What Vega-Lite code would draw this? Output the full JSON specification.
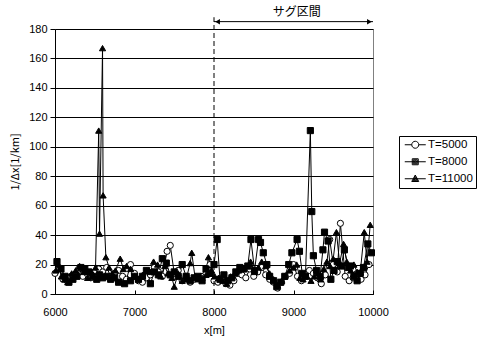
{
 "$schema": "https://vega.github.io/schema/vega-lite/v6.json",
 "width": 318, "height": 265,
 "autosize": {"type": "none"},
 "padding": {"left": 55, "top": 29, "right": 108, "bottom": 44},
 "background": "white",
 "config": {
  "view": {"stroke": "#808080", "strokeWidth": 1},
  "font": "Liberation Sans",
  "axis": {"labelFont": "Liberation Sans", "labelFontSize": 11, "labelColor": "black", "titleFontSize": 11, "titleFontWeight": "normal", "titleColor": "black", "domainColor": "black", "tickColor": "black", "labelOverlap": false}
 },
 "data": {"values": [
  {"s":"T=5000","x":6000,"y":14},{"s":"T=5000","x":6050,"y":18},{"s":"T=5000","x":6100,"y":10},{"s":"T=5000","x":6150,"y":9},{"s":"T=5000","x":6200,"y":12},{"s":"T=5000","x":6250,"y":13},{"s":"T=5000","x":6300,"y":17},{"s":"T=5000","x":6350,"y":12},{"s":"T=5000","x":6400,"y":14},{"s":"T=5000","x":6450,"y":11},{"s":"T=5000","x":6500,"y":15},{"s":"T=5000","x":6550,"y":17},{"s":"T=5000","x":6600,"y":15},{"s":"T=5000","x":6650,"y":18},{"s":"T=5000","x":6700,"y":12},{"s":"T=5000","x":6750,"y":14},{"s":"T=5000","x":6800,"y":16},{"s":"T=5000","x":6850,"y":12},{"s":"T=5000","x":6900,"y":10},{"s":"T=5000","x":6950,"y":20},{"s":"T=5000","x":7000,"y":14},{"s":"T=5000","x":7050,"y":9},{"s":"T=5000","x":7100,"y":8},{"s":"T=5000","x":7150,"y":11},{"s":"T=5000","x":7200,"y":13},{"s":"T=5000","x":7250,"y":18},{"s":"T=5000","x":7300,"y":15},{"s":"T=5000","x":7350,"y":12},{"s":"T=5000","x":7410,"y":29},{"s":"T=5000","x":7450,"y":33},{"s":"T=5000","x":7500,"y":14},{"s":"T=5000","x":7550,"y":16},{"s":"T=5000","x":7600,"y":9},{"s":"T=5000","x":7650,"y":12},{"s":"T=5000","x":7700,"y":8},{"s":"T=5000","x":7750,"y":10},{"s":"T=5000","x":7800,"y":11},{"s":"T=5000","x":7850,"y":12},{"s":"T=5000","x":7900,"y":14},{"s":"T=5000","x":7950,"y":20},{"s":"T=5000","x":8000,"y":9},{"s":"T=5000","x":8050,"y":8},{"s":"T=5000","x":8100,"y":11},{"s":"T=5000","x":8150,"y":7},{"s":"T=5000","x":8200,"y":6},{"s":"T=5000","x":8250,"y":9},{"s":"T=5000","x":8300,"y":14},{"s":"T=5000","x":8350,"y":13},{"s":"T=5000","x":8400,"y":11},{"s":"T=5000","x":8450,"y":17},{"s":"T=5000","x":8500,"y":12},{"s":"T=5000","x":8550,"y":15},{"s":"T=5000","x":8600,"y":18},{"s":"T=5000","x":8650,"y":13},{"s":"T=5000","x":8700,"y":10},{"s":"T=5000","x":8750,"y":8},{"s":"T=5000","x":8800,"y":4},{"s":"T=5000","x":8850,"y":8},{"s":"T=5000","x":8900,"y":12},{"s":"T=5000","x":8950,"y":14},{"s":"T=5000","x":9000,"y":20},{"s":"T=5000","x":9050,"y":12},{"s":"T=5000","x":9100,"y":9},{"s":"T=5000","x":9150,"y":13},{"s":"T=5000","x":9200,"y":16},{"s":"T=5000","x":9250,"y":14},{"s":"T=5000","x":9300,"y":11},{"s":"T=5000","x":9350,"y":7},{"s":"T=5000","x":9400,"y":13},{"s":"T=5000","x":9455,"y":37},{"s":"T=5000","x":9500,"y":20},{"s":"T=5000","x":9550,"y":15},{"s":"T=5000","x":9590,"y":48},{"s":"T=5000","x":9650,"y":12},{"s":"T=5000","x":9700,"y":9},{"s":"T=5000","x":9750,"y":11},{"s":"T=5000","x":9800,"y":14},{"s":"T=5000","x":9850,"y":10},{"s":"T=5000","x":9900,"y":13},{"s":"T=5000","x":9950,"y":20},
  {"s":"T=8000","x":6025,"y":22},{"s":"T=8000","x":6075,"y":17},{"s":"T=8000","x":6125,"y":12},{"s":"T=8000","x":6175,"y":8},{"s":"T=8000","x":6225,"y":10},{"s":"T=8000","x":6275,"y":12},{"s":"T=8000","x":6325,"y":18},{"s":"T=8000","x":6375,"y":17},{"s":"T=8000","x":6425,"y":15},{"s":"T=8000","x":6475,"y":12},{"s":"T=8000","x":6525,"y":10},{"s":"T=8000","x":6560,"y":13},{"s":"T=8000","x":6600,"y":11},{"s":"T=8000","x":6650,"y":12},{"s":"T=8000","x":6700,"y":10},{"s":"T=8000","x":6750,"y":11},{"s":"T=8000","x":6800,"y":8},{"s":"T=8000","x":6875,"y":7},{"s":"T=8000","x":6950,"y":9},{"s":"T=8000","x":7000,"y":12},{"s":"T=8000","x":7050,"y":10},{"s":"T=8000","x":7100,"y":12},{"s":"T=8000","x":7150,"y":16},{"s":"T=8000","x":7200,"y":7},{"s":"T=8000","x":7250,"y":15},{"s":"T=8000","x":7300,"y":13},{"s":"T=8000","x":7350,"y":24},{"s":"T=8000","x":7400,"y":21},{"s":"T=8000","x":7450,"y":13},{"s":"T=8000","x":7500,"y":15},{"s":"T=8000","x":7550,"y":12},{"s":"T=8000","x":7600,"y":20},{"s":"T=8000","x":7650,"y":12},{"s":"T=8000","x":7700,"y":9},{"s":"T=8000","x":7750,"y":11},{"s":"T=8000","x":7800,"y":12},{"s":"T=8000","x":7850,"y":9},{"s":"T=8000","x":7900,"y":17},{"s":"T=8000","x":7950,"y":14},{"s":"T=8000","x":8000,"y":20},{"s":"T=8000","x":8040,"y":37},{"s":"T=8000","x":8075,"y":10},{"s":"T=8000","x":8125,"y":13},{"s":"T=8000","x":8175,"y":9},{"s":"T=8000","x":8225,"y":11},{"s":"T=8000","x":8275,"y":15},{"s":"T=8000","x":8325,"y":18},{"s":"T=8000","x":8375,"y":17},{"s":"T=8000","x":8425,"y":19},{"s":"T=8000","x":8465,"y":37},{"s":"T=8000","x":8510,"y":16},{"s":"T=8000","x":8560,"y":37},{"s":"T=8000","x":8585,"y":35},{"s":"T=8000","x":8620,"y":28},{"s":"T=8000","x":8665,"y":20},{"s":"T=8000","x":8700,"y":12},{"s":"T=8000","x":8750,"y":9},{"s":"T=8000","x":8790,"y":5},{"s":"T=8000","x":8840,"y":8},{"s":"T=8000","x":8890,"y":12},{"s":"T=8000","x":8940,"y":20},{"s":"T=8000","x":8980,"y":28},{"s":"T=8000","x":9045,"y":37},{"s":"T=8000","x":9075,"y":29},{"s":"T=8000","x":9110,"y":14},{"s":"T=8000","x":9150,"y":12},{"s":"T=8000","x":9212,"y":111},{"s":"T=8000","x":9230,"y":56},{"s":"T=8000","x":9250,"y":26},{"s":"T=8000","x":9290,"y":16},{"s":"T=8000","x":9335,"y":12},{"s":"T=8000","x":9370,"y":30},{"s":"T=8000","x":9390,"y":42},{"s":"T=8000","x":9435,"y":36},{"s":"T=8000","x":9470,"y":10},{"s":"T=8000","x":9510,"y":16},{"s":"T=8000","x":9550,"y":22},{"s":"T=8000","x":9600,"y":19},{"s":"T=8000","x":9640,"y":30},{"s":"T=8000","x":9690,"y":18},{"s":"T=8000","x":9715,"y":19},{"s":"T=8000","x":9760,"y":12},{"s":"T=8000","x":9800,"y":9},{"s":"T=8000","x":9840,"y":14},{"s":"T=8000","x":9880,"y":18},{"s":"T=8000","x":9935,"y":34},{"s":"T=8000","x":9980,"y":28},
  {"s":"T=11000","x":6010,"y":16},{"s":"T=11000","x":6040,"y":20},{"s":"T=11000","x":6080,"y":12},{"s":"T=11000","x":6120,"y":10},{"s":"T=11000","x":6160,"y":8},{"s":"T=11000","x":6210,"y":14},{"s":"T=11000","x":6260,"y":16},{"s":"T=11000","x":6310,"y":19},{"s":"T=11000","x":6360,"y":15},{"s":"T=11000","x":6410,"y":11},{"s":"T=11000","x":6460,"y":15},{"s":"T=11000","x":6510,"y":18},{"s":"T=11000","x":6550,"y":111},{"s":"T=11000","x":6560,"y":41},{"s":"T=11000","x":6598,"y":167},{"s":"T=11000","x":6605,"y":67},{"s":"T=11000","x":6640,"y":25},{"s":"T=11000","x":6680,"y":18},{"s":"T=11000","x":6720,"y":14},{"s":"T=11000","x":6760,"y":16},{"s":"T=11000","x":6820,"y":24},{"s":"T=11000","x":6860,"y":17},{"s":"T=11000","x":6900,"y":19},{"s":"T=11000","x":6950,"y":17},{"s":"T=11000","x":7000,"y":12},{"s":"T=11000","x":7050,"y":10},{"s":"T=11000","x":7100,"y":13},{"s":"T=11000","x":7150,"y":16},{"s":"T=11000","x":7200,"y":15},{"s":"T=11000","x":7240,"y":22},{"s":"T=11000","x":7290,"y":20},{"s":"T=11000","x":7330,"y":12},{"s":"T=11000","x":7380,"y":19},{"s":"T=11000","x":7420,"y":14},{"s":"T=11000","x":7470,"y":11},{"s":"T=11000","x":7500,"y":5},{"s":"T=11000","x":7550,"y":14},{"s":"T=11000","x":7600,"y":9},{"s":"T=11000","x":7650,"y":10},{"s":"T=11000","x":7700,"y":21},{"s":"T=11000","x":7720,"y":28},{"s":"T=11000","x":7760,"y":12},{"s":"T=11000","x":7800,"y":10},{"s":"T=11000","x":7850,"y":11},{"s":"T=11000","x":7900,"y":13},{"s":"T=11000","x":7930,"y":25},{"s":"T=11000","x":7970,"y":16},{"s":"T=11000","x":8010,"y":12},{"s":"T=11000","x":8060,"y":11},{"s":"T=11000","x":8110,"y":9},{"s":"T=11000","x":8160,"y":7},{"s":"T=11000","x":8210,"y":12},{"s":"T=11000","x":8260,"y":14},{"s":"T=11000","x":8310,"y":16},{"s":"T=11000","x":8360,"y":17},{"s":"T=11000","x":8410,"y":19},{"s":"T=11000","x":8460,"y":22},{"s":"T=11000","x":8510,"y":15},{"s":"T=11000","x":8560,"y":18},{"s":"T=11000","x":8600,"y":22},{"s":"T=11000","x":8650,"y":19},{"s":"T=11000","x":8700,"y":14},{"s":"T=11000","x":8750,"y":10},{"s":"T=11000","x":8800,"y":6},{"s":"T=11000","x":8850,"y":9},{"s":"T=11000","x":8890,"y":12},{"s":"T=11000","x":8950,"y":16},{"s":"T=11000","x":9000,"y":18},{"s":"T=11000","x":9040,"y":20},{"s":"T=11000","x":9080,"y":11},{"s":"T=11000","x":9120,"y":10},{"s":"T=11000","x":9170,"y":12},{"s":"T=11000","x":9220,"y":9},{"s":"T=11000","x":9260,"y":12},{"s":"T=11000","x":9300,"y":14},{"s":"T=11000","x":9340,"y":10},{"s":"T=11000","x":9380,"y":17},{"s":"T=11000","x":9420,"y":22},{"s":"T=11000","x":9460,"y":19},{"s":"T=11000","x":9500,"y":24},{"s":"T=11000","x":9540,"y":42},{"s":"T=11000","x":9580,"y":21},{"s":"T=11000","x":9630,"y":34},{"s":"T=11000","x":9670,"y":22},{"s":"T=11000","x":9720,"y":16},{"s":"T=11000","x":9760,"y":20},{"s":"T=11000","x":9800,"y":15},{"s":"T=11000","x":9840,"y":15},{"s":"T=11000","x":9890,"y":42},{"s":"T=11000","x":9925,"y":22},{"s":"T=11000","x":9965,"y":47}
 ]},
 "encoding": {
  "x": {"field": "x", "type": "quantitative", "scale": {"domain": [6000, 10000], "nice": false},
        "axis": {"values": [6000, 7000, 8000, 9000, 10000], "format": "d", "grid": false, "tickSize": -4, "labelPadding": 16, "title": "x[m]", "titlePadding": 7, "labelFlush": false}},
  "y": {"field": "y", "type": "quantitative", "scale": {"domain": [0, 180], "nice": false},
        "axis": {"values": [0, 20, 40, 60, 80, 100, 120, 140, 160, 180], "grid": true, "gridColor": "black", "gridOpacity": 1, "tickSize": 5, "labelPadding": 3, "title": "1/Δx[1/km]", "titleFont": "Noto Sans CJK JP", "titlePadding": 8}}
 },
 "resolve": {"scale": {"shape": "independent"}},
 "layer": [
  {
   "mark": {"type": "line", "color": "black", "strokeWidth": 1},
   "encoding": {"detail": {"field": "s"}}
  },
  {
   "mark": {"type": "point", "filled": true, "stroke": "black", "strokeWidth": 1, "opacity": 1, "size": 38},
   "encoding": {
    "shape": {"field": "s", "type": "nominal", "scale": {"domain": ["T=5000", "T=8000", "T=11000"], "range": ["circle", "square", "triangle-up"]}, "legend": null},
    "fill": {"field": "s", "type": "nominal", "scale": {"domain": ["T=5000", "T=8000", "T=11000"], "range": ["white", "black", "black"]}, "legend": null}
   }
  },
  {
   "data": {"values": []},
   "mark": {"type": "point", "filled": false, "stroke": "black", "strokeWidth": 1, "opacity": 1},
   "encoding": {
    "shape": {"field": "s", "type": "nominal",
      "scale": {"domain": ["T=5000", "T=8000", "T=11000"],
        "range": [
          "M-2.1,0H-0.7M0.7,0H2.1M0.7,0A0.7,0.7 0 1,1 -0.7,0A0.7,0.7 0 1,1 0.7,0",
          "M-2.1,0H2.1M-0.6,-0.6H0.6V0.6H-0.6ZM-0.4,-0.4H0.4V0.4H-0.4ZM-0.2,-0.2H0.2V0.2H-0.2Z",
          "M-2.1,0H2.1M0,-0.75L0.7,0.55H-0.7ZM0,-0.455L0.462,0.403H-0.462ZM0,-0.169L0.231,0.26H-0.231Z"
        ]},
      "legend": {"title": null, "orient": "none", "legendX": 344, "legendY": 107, "direction": "vertical",
        "strokeColor": "black", "fillColor": "white", "padding": 3, "rowPadding": 4,
        "symbolOffset": 7.5, "labelOffset": 7, "symbolSize": 100, "symbolStrokeColor": "black", "symbolStrokeWidth": 1, "symbolFillColor": "transparent", "symbolOpacity": 1,
        "labelFont": "Liberation Sans", "labelFontSize": 11.5, "labelColor": "black"}}
   }
  },
  {
   "data": {"values": [{"x": 8000, "y": 0, "y2": 188}]},
   "mark": {"type": "rule", "color": "black", "strokeWidth": 1, "strokeDash": [5, 3]},
   "encoding": {"y2": {"field": "y2"}}
  },
  {
   "data": {"values": [{"x": 8000, "x2": 10000, "y": 185}]},
   "mark": {"type": "rule", "color": "black", "strokeWidth": 1},
   "encoding": {"x2": {"field": "x2"}}
  },
  {
   "data": {"values": [{"x": 8045, "y": 185}]},
   "mark": {"type": "point", "shape": "triangle-left", "filled": true, "color": "black", "opacity": 1, "size": 30},
   "encoding": {}
  },
  {
   "data": {"values": [{"x": 9955, "y": 185}]},
   "mark": {"type": "point", "shape": "triangle-right", "filled": true, "color": "black", "opacity": 1, "size": 30},
   "encoding": {}
  },
  {
   "data": {"values": [{"x": 9040, "y": 191.5, "label": "サグ区間"}]},
   "mark": {"type": "text", "font": "Noto Sans CJK JP", "fontSize": 12, "color": "black", "baseline": "middle", "align": "center"},
   "encoding": {"text": {"field": "label"}}
  }
 ]
}
